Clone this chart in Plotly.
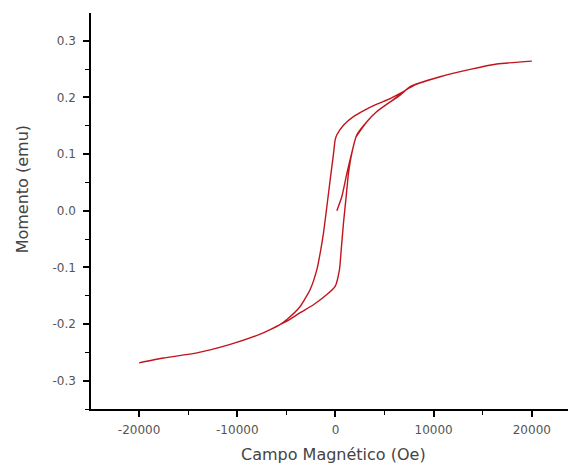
import plotly.graph_objects as go

# Virgin (initial magnetization) curve: 0 -> +20000 Oe
virgin_field = [143, 652, 1161, 1670, 2100, 3197, 4216, 5570, 6588, 7607, 10660, 13716, 16435, 20000]
virgin_moment = [0.000, 0.025, 0.066, 0.103, 0.130, 0.157, 0.175, 0.192, 0.205, 0.219, 0.2365, 0.2495, 0.259, 0.264]

# Descending branch: +20000 -> -20000 Oe
desc_field = [20000, 16435, 13716, 10660, 8100, 6588, 5570, 4216, 3024, 1833, 815, 143, -31, -204,
              -540, -876, -1222, -1558, -1894, -2576, -3595, -4949, -5662, -6650, -7668,
              -10723, -14114, -17515, -20000]
desc_moment = [0.264, 0.259, 0.2495, 0.2365, 0.222, 0.207, 0.198, 0.188, 0.178, 0.166, 0.151, 0.134, 0.125, 0.100,
               0.0544, 0.0074, -0.0395, -0.075, -0.104, -0.139, -0.169, -0.192, -0.201, -0.210, -0.218,
               -0.236, -0.251, -0.260, -0.2685]

# Ascending branch: -20000 -> +20000 Oe
asc_field = [-20000, -17515, -14114, -10723, -7668, -6650, -5662, -4949, -3595, -2240, -876, -31,
             407, 600, 815, 1090, 1324, 1670, 2179, 3197, 4216, 5570, 6588, 7607,
             10660, 13716, 16435, 20000]
asc_moment = [-0.2685, -0.260, -0.251, -0.236, -0.218, -0.210, -0.201, -0.195, -0.180, -0.166, -0.148, -0.1336,
              -0.104, -0.066, -0.022, 0.025, 0.066, 0.1015, 0.134, 0.157, 0.175, 0.192, 0.204, 0.219,
              0.2365, 0.2495, 0.259, 0.264]

x_ticks = [-20000, -10000, 0, 10000, 20000]
y_ticks = [-0.3, -0.2, -0.1, 0.0, 0.1, 0.2, 0.3]

x_title = "Campo Magnético (Oe)"
y_title = "Momento (emu)"

field = virgin_field + desc_field + asc_field
moment = virgin_moment + desc_moment + asc_moment

fig = go.Figure()
fig.add_trace(go.Scatter(
    x=field, y=moment, mode="lines",
    line=dict(color="#c0151c", width=1.4, shape="spline", smoothing=0.5),
    showlegend=False, hoverinfo="skip",
))

axis_common = dict(
    showline=True, linecolor="black", linewidth=1.5,
    ticks="outside", ticklen=6, tickwidth=1.5, tickcolor="black",
    showgrid=False, zeroline=False, mirror=False,
    tickfont=dict(family="DejaVu Sans", size=12, color="#555555"),
)

fig.update_xaxes(
    range=[-24900, 24500], tickvals=x_ticks, ticktext=[str(v) for v in x_ticks],
    minor=dict(ticks="outside", ticklen=4, tickwidth=1.2, tickcolor="black", dtick=5000, tick0=0, showgrid=False),
    ticklabelstandoff=3,
    **axis_common,
)
fig.update_yaxes(
    range=[-0.35, 0.349], tickvals=y_ticks, ticktext=[f"{v:.1f}" for v in y_ticks],
    minor=dict(ticks="outside", ticklen=4, tickwidth=1.2, tickcolor="black", dtick=0.05, tick0=0, showgrid=False),
    ticklabelstandoff=5,
    **axis_common,
)

fig.update_layout(
    width=576, height=466,
    margin=dict(l=83, r=8, t=5, b=65),
    paper_bgcolor="white", plot_bgcolor="white",
    annotations=[
        dict(text=x_title, xref="paper", yref="paper", x=0.5, y=-0.116,
             xanchor="center", yanchor="middle", showarrow=False,
             font=dict(family="DejaVu Sans", size=16, color="#444444")),
        dict(text=y_title, xref="paper", yref="paper", x=-0.142, y=0.555,
             xanchor="center", yanchor="middle", textangle=-90, showarrow=False,
             font=dict(family="DejaVu Sans", size=16, color="#444444")),
    ],
)

fig.write_html("out.html")
